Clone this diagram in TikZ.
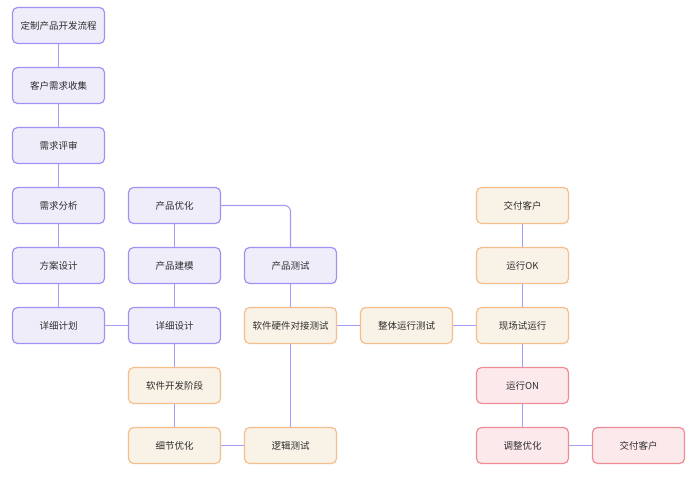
\documentclass[tikz,border=0pt]{standalone}
\usepackage{fontspec}
\setmainfont{Noto Sans CJK SC}
\definecolor{pfill}{HTML}{F0EDFB}
\definecolor{pdraw}{HTML}{9C93F2}
\definecolor{ofill}{HTML}{F9F2E7}
\definecolor{odraw}{HTML}{F6BE8A}
\definecolor{rfill}{HTML}{FCE9EC}
\definecolor{rdraw}{HTML}{EE8C96}
\definecolor{lcol}{HTML}{A29CF5}
\definecolor{tcol}{HTML}{2E2E2E}
\tikzset{
  box/.style={rectangle, rounded corners=5pt, line width=1.2pt, minimum width=92pt, minimum height=36pt, inner sep=0pt, font=\fontsize{9.5pt}{11pt}\selectfont, text=tcol},
  pbox/.style={box, fill=pfill, draw=pdraw},
  obox/.style={box, fill=ofill, draw=odraw},
  rbox/.style={box, fill=rfill, draw=rdraw},
  conn/.style={draw=lcol, line width=1.1pt}
}
\begin{document}
\begin{tikzpicture}[x=1pt,y=-1pt]
\useasboundingbox[fill=white] (0,0) rectangle (695,480);
% columns 58.5,174.5,290.5,406.5,522.5,638.5 ; rows 25.5+60k
\node[pbox] (a1) at (58.5,25.5) {定制产品开发流程};
\node[pbox] (a2) at (58.5,85.5) {客户需求收集};
\node[pbox] (a3) at (58.5,145.5) {需求评审};
\node[pbox] (a4) at (58.5,205.5) {需求分析};
\node[pbox] (a5) at (58.5,265.5) {方案设计};
\node[pbox] (a6) at (58.5,325.5) {详细计划};
\node[pbox] (b4) at (174.5,205.5) {产品优化};
\node[pbox] (b5) at (174.5,265.5) {产品建模};
\node[pbox] (b6) at (174.5,325.5) {详细设计};
\node[obox] (b7) at (174.5,385.5) {软件开发阶段};
\node[obox] (b8) at (174.5,445.5) {细节优化};
\node[pbox] (c5) at (290.5,265.5) {产品测试};
\node[obox] (c6) at (290.5,325.5) {软件硬件对接测试};
\node[obox] (c8) at (290.5,445.5) {逻辑测试};
\node[obox] (d6) at (406.5,325.5) {整体运行测试};
\node[obox] (e4) at (522.5,205.5) {交付客户};
\node[obox] (e5) at (522.5,265.5) {运行OK};
\node[obox] (e6) at (522.5,325.5) {现场试运行};
\node[rbox] (e7) at (522.5,385.5) {运行ON};
\node[rbox] (e8) at (522.5,445.5) {调整优化};
\node[rbox] (f8) at (638.5,445.5) {交付客户};
\draw[conn] (a1) -- (a2);
\draw[conn] (a2) -- (a3);
\draw[conn] (a3) -- (a4);
\draw[conn] (a4) -- (a5);
\draw[conn] (a5) -- (a6);
\draw[conn] (a6) -- (b6);
\draw[conn] (b4) -- (b5);
\draw[conn] (b5) -- (b6);
\draw[conn, rounded corners=6pt] (b4.east) -| (c5.north);
\draw[conn] (b6) -- (b7);
\draw[conn] (b7) -- (b8);
\draw[conn] (b8) -- (c8);
\draw[conn] (c5) -- (c6);
\draw[conn] (c6) -- (c8);
\draw[conn] (c6) -- (d6);
\draw[conn] (d6) -- (e6);
\draw[conn] (e4) -- (e5);
\draw[conn] (e5) -- (e6);
\draw[conn] (e6) -- (e7);
\draw[conn] (e7) -- (e8);
\draw[conn] (e8) -- (f8);
\end{tikzpicture}
\end{document}
